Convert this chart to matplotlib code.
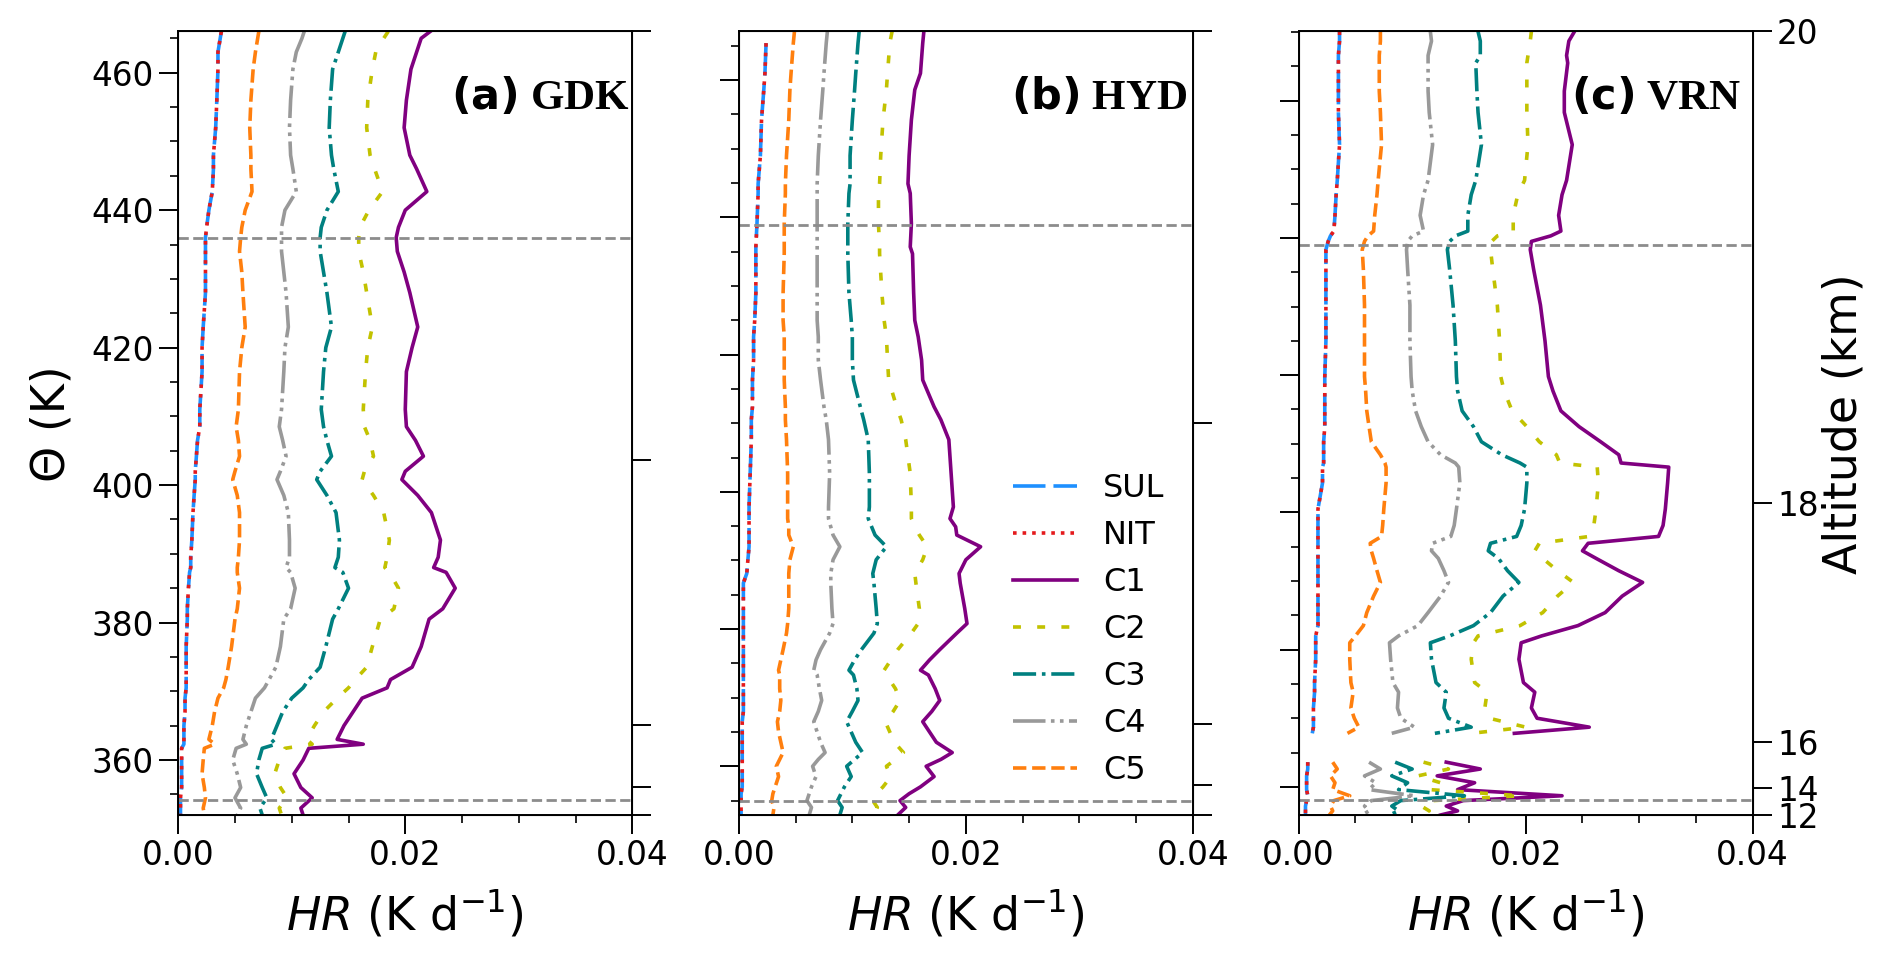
import numpy as np
import matplotlib
matplotlib.use('Agg')
import matplotlib.pyplot as plt
from matplotlib.ticker import MultipleLocator, NullLocator
from matplotlib.lines import Line2D

nan = np.nan

# ---- panel (a) GDK ----
theta_a = [466, 465, 463, 460.5, 456, 452, 448, 446, 442.7, 440, 437.5, 436, 434, 431, 428,
           423, 420, 416.5, 411, 408.5, 406.5, 404.2, 402, 400.8, 398.5, 396, 392, 389.5, 388, 387.3,
           385, 382, 380.5, 376.5, 373.5, 371.7, 370.5, 369, 367, 365, 363, 362.3, 361.7, 360, 358,
           356, 354.5, 353, 352]
sul_a = [0.0038, 0.0037, 0.0035, 0.0035, 0.0034, 0.0033, 0.0031, 0.0031, 0.0030, 0.0027, 0.0025, 0.0024, 0.0024, 0.0024, 0.0024,
         0.0022, 0.0021, 0.0021, 0.0019, 0.0019, 0.0017, 0.0016, 0.0015, 0.0015, 0.0014, 0.0013, 0.0012, 0.0011, 0.0011, 0.0010,
         0.0009, 0.0008, 0.0008, 0.0007, 0.0007, 0.0007, 0.0007, 0.0006, 0.0006, 0.0005, 0.0005, 0.0005, 0.0003, 0.0003, 0.0003,
         0.0003, 0.0002, 0.0002, 0.0002]
nit_a = [0.0038, 0.0037, 0.0035, 0.0035, 0.0034, 0.0033, 0.0031, 0.0031, 0.0030, 0.0027, 0.0025, 0.0024, 0.0024, 0.0024, 0.0024,
         0.0022, 0.0021, 0.0021, 0.0019, 0.0019, 0.0017, 0.0016, 0.0015, 0.0015, 0.0014, 0.0013, 0.0012, 0.0011, 0.0011, 0.0010,
         0.0009, 0.0008, 0.0008, 0.0007, 0.0007, 0.0007, 0.0007, 0.0006, 0.0006, 0.0005, 0.0005, 0.0005, 0.0003, 0.0003, 0.0003,
         0.0003, 0.0002, 0.0002, 0.0002]
c1_a = [0.0222, 0.0214, 0.0210, 0.0205, 0.0201, 0.0199, 0.0204, 0.0210, 0.0219, 0.0200, 0.0194, 0.0192, 0.0193, 0.0199, 0.0204,
        0.0211, 0.0206, 0.0201, 0.0200, 0.0201, 0.0209, 0.0216, 0.0200, 0.0197, 0.0211, 0.0223, 0.0231, 0.0229, 0.0225, 0.0236,
        0.0244, 0.0233, 0.0221, 0.0214, 0.0206, 0.0187, 0.0184, 0.0162, 0.0154, 0.0146, 0.0140, 0.0163, 0.0115, 0.0110, 0.0102,
        0.0108, 0.0118, 0.0108, 0.0110]
c2_a = [0.0185, 0.0181, 0.0174, 0.0171, 0.0167, 0.0166, 0.0169, 0.0173, 0.0180, 0.0168, 0.0160, 0.0159, 0.0159, 0.0163, 0.0166,
        0.0171, 0.0167, 0.0165, 0.0163, 0.0164, 0.0169, 0.0172, 0.0164, 0.0162, 0.0172, 0.0181, 0.0186, 0.0184, 0.0182, 0.0186,
        0.0194, 0.0190, 0.0178, 0.0171, 0.0166, 0.0156, 0.0150, 0.0140, 0.0128, 0.0120, 0.0113, 0.0118, 0.0094, 0.0089, 0.0085,
        0.0090, 0.0096, 0.0089, 0.0091]
c3_a = [0.0147, 0.0145, 0.0141, 0.0136, 0.0134, 0.0133, 0.0135, 0.0137, 0.0141, 0.0131, 0.0126, 0.0125, 0.0125, 0.0128, 0.0131,
        0.0135, 0.0130, 0.0128, 0.0126, 0.0128, 0.0131, 0.0135, 0.0125, 0.0122, 0.0131, 0.0139, 0.0142, 0.0141, 0.0138, 0.0145,
        0.0150, 0.0141, 0.0136, 0.0130, 0.0125, 0.0115, 0.0110, 0.0100, 0.0092, 0.0087, 0.0082, 0.0086, 0.0074, 0.0071, 0.0069,
        0.0074, 0.0078, 0.0072, 0.0074]
c4_a = [0.0111, 0.0109, 0.0104, 0.0101, 0.0099, 0.0098, 0.0099, 0.0101, 0.0104, 0.0094, 0.0091, 0.0091, 0.0091, 0.0093, 0.0095,
        0.0097, 0.0094, 0.0093, 0.0091, 0.0089, 0.0092, 0.0095, 0.0090, 0.0087, 0.0093, 0.0097, 0.0098, 0.0098, 0.0095, 0.0099,
        0.0103, 0.0099, 0.0093, 0.0090, 0.0086, 0.0080, 0.0076, 0.0068, 0.0064, 0.0060, 0.0057, 0.0060, 0.0051, 0.0048, 0.0052,
        0.0055, 0.0050, 0.0055, 0.0052]
c5_a = [0.0071, 0.0070, 0.0068, 0.0066, 0.0064, 0.0063, 0.0064, 0.0064, 0.0065, 0.0059, 0.0056, 0.0055, 0.0054, 0.0056, 0.0057,
        0.0059, 0.0056, 0.0054, 0.0053, 0.0051, 0.0053, 0.0054, 0.0050, 0.0048, 0.0052, 0.0054, 0.0054, 0.0053, 0.0052, 0.0052,
        0.0054, 0.0052, 0.0050, 0.0047, 0.0044, 0.0042, 0.0040, 0.0035, 0.0032, 0.0030, 0.0027, 0.0032, 0.0023, 0.0022, 0.0021,
        0.0023, 0.0024, 0.0022, 0.0023]

# ---- panel (b) HYD ----
theta_b = [467.1, 465.4, 461, 458.6, 454.2, 449, 444.9, 443.5, 439.1, 435.7, 434.7, 429, 425, 422.6, 419.2,
           416.3, 412.4, 410.5, 407.6, 402.7, 397.8, 396.1, 394.9, 393.7, 392.0, 390.1, 388.1, 386.7, 383, 380.8,
           379.4, 377, 375.5, 374.0, 373.3, 371.3, 369.6, 368, 366.5, 365, 363.5, 362, 361, 360, 358.5,
           357, 356, 355, 354, 352.9]
sul_b = [nan, 0.0024, 0.0023, 0.0022, 0.0020, 0.0019, 0.0017, 0.0017, 0.0016, 0.0015, 0.0015, 0.0015, 0.0014, 0.0013, 0.0013,
         0.0012, 0.0012, 0.0011, 0.0011, 0.0010, 0.0009, 0.0009, 0.0009, 0.0009, 0.0009, 0.0008, 0.0007, 0.0004, 0.0004, 0.0004,
         0.0004, 0.0004, 0.0004, 0.0004, 0.0004, 0.0004, 0.0004, 0.0004, 0.0003, 0.0003, 0.0003, 0.0003, 0.0003, 0.0003, 0.0003,
         0.0003, 0.0002, 0.0002, 0.0002, 0.0002]
nit_b = [nan, 0.0024, 0.0023, 0.0022, 0.0020, 0.0019, 0.0017, 0.0017, 0.0016, 0.0015, 0.0015, 0.0015, 0.0014, 0.0013, 0.0013,
         0.0012, 0.0012, 0.0011, 0.0011, 0.0010, 0.0009, 0.0009, 0.0009, 0.0009, 0.0009, 0.0008, 0.0007, 0.0004, 0.0004, 0.0004,
         0.0004, 0.0004, 0.0004, 0.0004, 0.0004, 0.0004, 0.0004, 0.0004, 0.0003, 0.0003, 0.0003, 0.0003, 0.0003, 0.0003, 0.0003,
         0.0003, 0.0002, 0.0002, 0.0002, 0.0002]
c1_b = [0.0163, 0.0162, 0.0160, 0.0155, 0.0152, 0.0150, 0.0149, 0.0151, 0.0152, 0.0151, 0.0153, 0.0154, 0.0155, 0.0158, 0.0161,
        0.0162, 0.0172, 0.0178, 0.0185, 0.0187, 0.0189, 0.0186, 0.0191, 0.0192, 0.0213, 0.0200, 0.0194, 0.0195, 0.0199, 0.0201,
        0.0192, 0.0177, 0.0168, 0.0160, 0.0167, 0.0173, 0.0177, 0.0170, 0.0162, 0.0168, 0.0174, 0.0188, 0.0178, 0.0165, 0.0172,
        0.0160, 0.0150, 0.0142, 0.0147, 0.0140]
c2_b = [0.0135, 0.0133, 0.0131, 0.0130, 0.0127, 0.0125, 0.0124, 0.0123, 0.0123, 0.0124, 0.0124, 0.0126, 0.0128, 0.0130, 0.0131,
        0.0132, 0.0139, 0.0143, 0.0147, 0.0151, 0.0152, 0.0152, 0.0155, 0.0159, 0.0166, 0.0162, 0.0155, 0.0156, 0.0159, 0.0158,
        0.0152, 0.0140, 0.0134, 0.0128, 0.0130, 0.0138, 0.0142, 0.0136, 0.0129, 0.0133, 0.0137, 0.0145, 0.0138, 0.0130, 0.0134,
        0.0127, 0.0121, 0.0118, 0.0122, 0.0119]
c3_b = [0.0106, 0.0105, 0.0103, 0.0102, 0.0100, 0.0098, 0.0098, 0.0097, 0.0096, 0.0096, 0.0096, 0.0097, 0.0099, 0.0100, 0.0100,
        0.0101, 0.0107, 0.0110, 0.0114, 0.0115, 0.0115, 0.0114, 0.0117, 0.0120, 0.0130, 0.0121, 0.0118, 0.0119, 0.0121, 0.0122,
        0.0119, 0.0108, 0.0102, 0.0097, 0.0101, 0.0104, 0.0105, 0.0100, 0.0095, 0.0099, 0.0103, 0.0109, 0.0102, 0.0095, 0.0099,
        0.0093, 0.0090, 0.0087, 0.0091, 0.0089]
c4_b = [0.0078, 0.0077, 0.0075, 0.0074, 0.0072, 0.0070, 0.0069, 0.0069, 0.0069, 0.0069, 0.0069, 0.0069, 0.0069, 0.0070, 0.0070,
        0.0072, 0.0075, 0.0077, 0.0079, 0.0080, 0.0079, 0.0079, 0.0081, 0.0083, 0.0089, 0.0083, 0.0081, 0.0081, 0.0082, 0.0083,
        0.0080, 0.0072, 0.0068, 0.0066, 0.0069, 0.0071, 0.0073, 0.0070, 0.0066, 0.0069, 0.0072, 0.0076, 0.0070, 0.0065, 0.0068,
        0.0064, 0.0062, 0.0060, 0.0064, 0.0062]
c5_b = [0.0049, 0.0048, 0.0046, 0.0045, 0.0044, 0.0042, 0.0041, 0.0041, 0.0040, 0.0040, 0.0040, 0.0039, 0.0039, 0.0040, 0.0040,
        0.0040, 0.0041, 0.0041, 0.0042, 0.0043, 0.0043, 0.0043, 0.0044, 0.0044, 0.0048, 0.0045, 0.0044, 0.0044, 0.0044, 0.0043,
        0.0042, 0.0039, 0.0037, 0.0035, 0.0036, 0.0036, 0.0037, 0.0036, 0.0034, 0.0035, 0.0037, 0.0039, 0.0036, 0.0033, 0.0035,
        0.0032, 0.0030, 0.0029, 0.0031, 0.0030]

# ---- panel (c) VRN ----  (nan = gap in the profiles)
theta_c = [470.1, 468.7, 466.6, 465.5, 461.4, 458.3, 453.6, 448.4, 446.3, 443.3, 441.0, 440.3, 439.5, 438.3, 435.4,
           430.2, 425.0, 419.8, 417.7, 414.8, 412.5, 410.3, 408.4, 407.2, 406.6, 404.3, 400.5, 398.1, 396.5, 395.5,
           394.4, 393.3, 391.5, 389.8, 387.8, 385.4, 383.5, 382.0, 381.0, 378.6, 375.2, 373.8, 371.5, 370.0, 368.7,
           367.8, nan, 363.6, 362.6, 361.6, 360.6, 359.6, 358.7, 358.0, 357.2, 356.5, 355.9]
sul_c = [0.0036, 0.0036, 0.0035, 0.0035, 0.0035, 0.0035, 0.0036, 0.0034, 0.0033, 0.0032, 0.0031, 0.0028, 0.0026, 0.0024, 0.0024,
         0.0024, 0.0024, 0.0023, 0.0023, 0.0023, 0.0023, 0.0022, 0.0022, 0.0022, 0.0021, 0.0021, 0.0017, 0.0017, 0.0017, 0.0017,
         0.0017, 0.0017, 0.0017, 0.0017, 0.0017, 0.0017, 0.0017, 0.0015, 0.0015, 0.0015, 0.0014, 0.0014, 0.0013, 0.0013, 0.0013,
         0.0012, nan, 0.0008, 0.0008, 0.0007, 0.0007, 0.0007, 0.0008, 0.0007, 0.0006, 0.0006, 0.0006]
nit_c = [0.0036, 0.0036, 0.0035, 0.0035, 0.0035, 0.0035, 0.0036, 0.0034, 0.0033, 0.0032, 0.0031, 0.0028, 0.0026, 0.0024, 0.0024,
         0.0024, 0.0024, 0.0023, 0.0023, 0.0023, 0.0023, 0.0022, 0.0022, 0.0022, 0.0021, 0.0021, 0.0017, 0.0017, 0.0017, 0.0017,
         0.0017, 0.0017, 0.0017, 0.0017, 0.0017, 0.0017, 0.0017, 0.0015, 0.0015, 0.0015, 0.0014, 0.0014, 0.0013, 0.0013, 0.0013,
         0.0012, nan, 0.0008, 0.0008, 0.0007, 0.0007, 0.0007, 0.0008, 0.0007, 0.0006, 0.0006, 0.0006]
c1_c = [0.0243, 0.0238, 0.0236, 0.0237, 0.0234, 0.0234, 0.0241, 0.0236, 0.0232, 0.0229, 0.0231, 0.0222, 0.0205, 0.0204, 0.0207,
        0.0213, 0.0217, 0.0220, 0.0224, 0.0231, 0.0247, 0.0266, 0.0282, 0.0284, 0.0326, 0.0325, 0.0323, 0.0321, 0.0317, 0.0255,
        0.0250, 0.0262, 0.0282, 0.0303, 0.0285, 0.0270, 0.0246, 0.0214, 0.0196, 0.0194, 0.0198, 0.0208, 0.0205, 0.0210, 0.0256,
        0.0190, nan, 0.0130, 0.0160, 0.0122, 0.0155, 0.0140, 0.0232, 0.0145, 0.0130, 0.0140, 0.0125]
c2_c = [0.0205, 0.0204, 0.0202, 0.0201, 0.0201, 0.0201, 0.0202, 0.0199, 0.0193, 0.0189, 0.0189, 0.0175, 0.0170, 0.0169, 0.0171,
        0.0175, 0.0177, 0.0178, 0.0181, 0.0188, 0.0201, 0.0212, 0.0227, 0.0230, 0.0263, 0.0264, 0.0262, 0.0260, 0.0256, 0.0212,
        0.0208, 0.0215, 0.0228, 0.0242, 0.0228, 0.0215, 0.0195, 0.0158, 0.0154, 0.0152, 0.0155, 0.0166, 0.0164, 0.0168, 0.0200,
        0.0152, nan, 0.0110, 0.0132, 0.0105, 0.0125, 0.0115, 0.0196, 0.0118, 0.0108, 0.0115, 0.0105]
c3_c = [0.0158, 0.0160, 0.0160, 0.0156, 0.0157, 0.0158, 0.0161, 0.0156, 0.0152, 0.0149, 0.0149, 0.0138, 0.0133, 0.0131, 0.0133,
        0.0136, 0.0138, 0.0139, 0.0140, 0.0144, 0.0154, 0.0161, 0.0179, 0.0195, 0.0201, 0.0201, 0.0199, 0.0196, 0.0192, 0.0169,
        0.0167, 0.0176, 0.0184, 0.0194, 0.0180, 0.0169, 0.0154, 0.0133, 0.0116, 0.0117, 0.0121, 0.0130, 0.0128, 0.0132, 0.0152,
        0.0120, nan, 0.0085, 0.0100, 0.0082, 0.0096, 0.0088, 0.0146, 0.0090, 0.0082, 0.0088, 0.0080]
c4_c = [0.0116, 0.0117, 0.0114, 0.0114, 0.0114, 0.0115, 0.0118, 0.0114, 0.0110, 0.0107, 0.0110, 0.0100, 0.0096, 0.0095, 0.0096,
        0.0098, 0.0098, 0.0099, 0.0100, 0.0103, 0.0108, 0.0114, 0.0125, 0.0138, 0.0141, 0.0142, 0.0139, 0.0137, 0.0134, 0.0118,
        0.0117, 0.0123, 0.0128, 0.0132, 0.0125, 0.0114, 0.0105, 0.0088, 0.0080, 0.0081, 0.0083, 0.0088, 0.0087, 0.0090, 0.0102,
        0.0082, nan, 0.0062, 0.0072, 0.0058, 0.0068, 0.0062, 0.0102, 0.0064, 0.0058, 0.0062, 0.0056]
c5_c = [0.0072, 0.0072, 0.0071, 0.0071, 0.0071, 0.0072, 0.0073, 0.0070, 0.0069, 0.0067, 0.0066, 0.0061, 0.0058, 0.0056, 0.0057,
        0.0058, 0.0058, 0.0058, 0.0059, 0.0060, 0.0062, 0.0064, 0.0072, 0.0076, 0.0077, 0.0077, 0.0075, 0.0074, 0.0073, 0.0063,
        0.0064, 0.0066, 0.0069, 0.0072, 0.0066, 0.0060, 0.0057, 0.0050, 0.0045, 0.0045, 0.0046, 0.0048, 0.0046, 0.0049, 0.0053,
        0.0043, nan, 0.0030, 0.0034, 0.0028, 0.0032, 0.0030, 0.0045, 0.0031, 0.0028, 0.0030, 0.0027]

# reference levels (K) and axis ranges per site
site_names = ['GDK', 'HYD', 'VRN']
panel_tags = ['(a)', '(b)', '(c)']
ylims = [(352.0, 466.0), (352.9, 467.1), (355.9, 470.1)]
upper_levels = [436.0, 438.9, 439.0]
lower_levels = [354.2, 354.9, 358.1]

# altitude axis: theta at which each altitude (km) sits
alt_km = [12, 14, 16, 18, 20]
alt_theta_a = [352.0, 356.1, 365.1, 403.6, 466.0]
alt_theta_b = [352.9, 357.2, 366.1, 410.0, 467.1]
alt_theta_c = [355.9, 359.8, 366.5, 401.4, 470.1]

series_names = ['SUL', 'NIT', 'C1', 'C2', 'C3', 'C4', 'C5']
colors = ['#1e90ff', '#e41a1c', 'purple', '#c2c200', 'teal', '#999999', '#ff7f0e']
linestyles = [(0, (9, 2.2)), ':', '-', (0, (2.2, 4.5)), '-.', (0, (9, 1.5, 1, 1.5, 1, 1.5)), '--']

thetas = [theta_a, theta_b, theta_c]
data = [[sul_a, nit_a, c1_a, c2_a, c3_a, c4_a, c5_a],
        [sul_b, nit_b, c1_b, c2_b, c3_b, c4_b, c5_b],
        [sul_c, nit_c, c1_c, c2_c, c3_c, c4_c, c5_c]]
alt_thetas = [alt_theta_a, alt_theta_b, alt_theta_c]

fig = plt.figure(figsize=(18.92, 9.56), dpi=100)
lefts = [0.0942, 0.3905, 0.6864]
lw = 2.6

for i in range(3):
    ax = fig.add_axes([lefts[i], 0.1475, 0.240, 0.8196])
    # C series first, SUL and NIT on top
    for k in [2, 3, 4, 5, 6, 0, 1]:
        ax.plot(data[i][k], thetas[i], color=colors[k], linestyle=linestyles[k], lw=lw)
    ax.axhline(upper_levels[i], color='#8c8c8c', ls='--', lw=2)
    ax.axhline(lower_levels[i], color='#8c8c8c', ls='--', lw=2)

    ax.set_xlim(0, 0.04)
    ax.set_ylim(*ylims[i])
    ax.xaxis.set_major_locator(MultipleLocator(0.02))
    ax.xaxis.set_minor_locator(MultipleLocator(0.005))
    ax.yaxis.set_major_locator(MultipleLocator(20))
    ax.yaxis.set_minor_locator(MultipleLocator(5))
    ax.xaxis.set_major_formatter(plt.FormatStrFormatter('%.2f'))
    ax.tick_params(which='major', length=14, width=1.4, labelsize=23.5)
    ax.tick_params(which='minor', length=6, width=1.2)
    for sp in ax.spines.values():
        sp.set_linewidth(1.4)
    if i != 0:
        ax.set_yticklabels([])
    else:
        ax.set_ylabel('Θ (K)', fontsize=33, labelpad=12)
    ax.set_xlabel(r'$HR$ (K d$^{-1}$)', fontsize=33, labelpad=12)

    ax.text(0.60, 0.916, r'$\mathbf{' + panel_tags[i] + '}$ ' + site_names[i],
            transform=ax.transAxes, fontsize=31, fontweight='bold',
            family='Liberation Serif', ha='left', va='center')

    ax2 = ax.twinx()
    ax2.set_ylim(*ylims[i])
    ax2.set_yticks(alt_thetas[i])
    ax2.yaxis.set_minor_locator(NullLocator())
    ax2.tick_params(which='major', length=14, width=1.4, labelsize=23.5)
    if i == 2:
        ax2.set_yticklabels([str(a) for a in alt_km])
        ax2.set_ylabel('Altitude (km)', fontsize=33, labelpad=2)
    else:
        ax2.set_yticklabels([])

    if i == 1:
        handles = [Line2D([], [], color=colors[k], linestyle=linestyles[k], lw=lw)
                   for k in range(len(series_names))]
        ax.legend(handles, series_names, loc='lower right', frameon=False, fontsize=23)

fig.savefig('out.png', dpi=100)
